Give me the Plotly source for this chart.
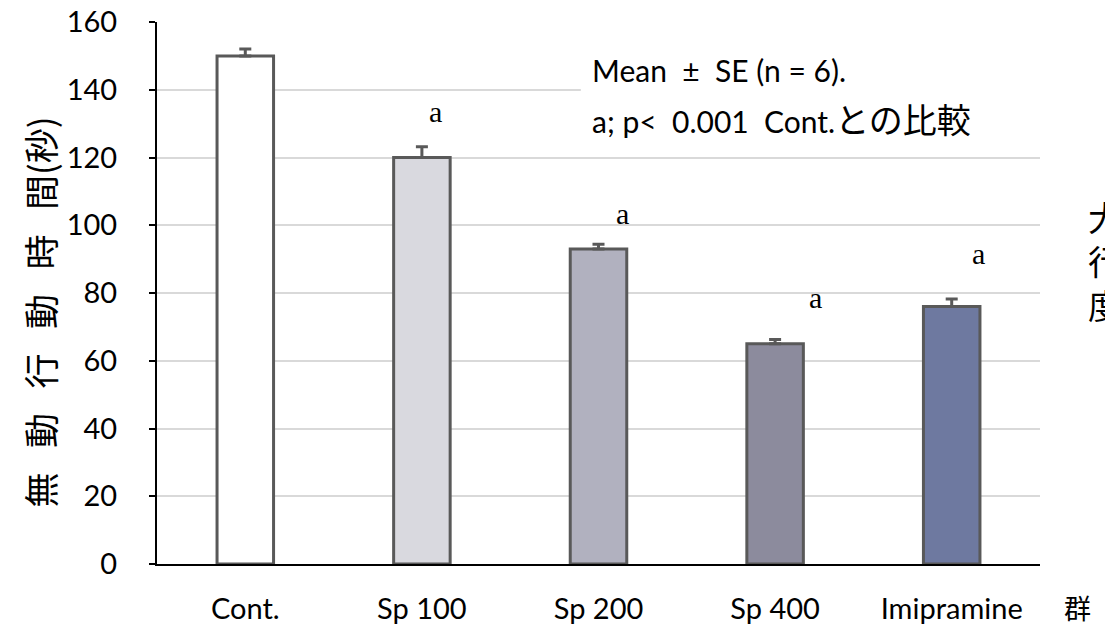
import plotly.graph_objects as go

categories = ["Cont.", "Sp 100", "Sp 200", "Sp 400", "Imipramine"]
means = [150, 120, 93, 65, 76]
se = [2, 3.2, 1.4, 1.3, 2.2]
sig_labels = ["", "a", "a", "a", "a"]
bar_colors = ["#ffffff", "#d9d9df", "#b1b1bf", "#8c8b9d", "#6e79a0"]
y_ticks = [0, 20, 40, 60, 80, 100, 120, 140, 160]

LATIN = "Lato, 'Noto Sans CJK JP', sans-serif"
CJK = "'Noto Sans CJK JP', sans-serif"

fig = go.Figure()
fig.add_trace(go.Bar(
    x=categories, y=means,
    marker=dict(color=bar_colors, line=dict(color="#595959", width=3)),
    error_y=dict(type="data", array=se, arrayminus=[0]*len(se), symmetric=False,
                 color="#595959", thickness=3, width=6),
    width=0.32,
    showlegend=False,
))

# significance letters
xshifts = [0, 14, 24, 40, 27]
yshifts = [0, 35, 31, 42, 46]
for i, (c, m, s, lab) in enumerate(zip(categories, means, se, sig_labels)):
    if lab:
        fig.add_annotation(x=c, y=m + s, text=lab, showarrow=False,
                           xshift=xshifts[i], yshift=yshifts[i], yanchor="middle",
                           font=dict(family="'Liberation Serif', serif", size=30, color="#000"))

# white box behind the note (hides the grid line there)
fig.add_shape(type="rect", xref="paper", yref="paper", x0=0.48, x1=1.0, y0=0.778, y1=0.97,
              fillcolor="white", line=dict(width=0), layer="above")

fig.add_annotation(xref="paper", yref="paper", x=0.49, y=0.912, xanchor="left", yanchor="middle",
                   text="Mean\u00a0\u00a0±\u00a0\u00a0SE (n = 6).", showarrow=False,
                   font=dict(family=LATIN, size=30, color="#000"))
fig.add_annotation(xref="paper", yref="paper", x=0.49, y=0.82, xanchor="left", yanchor="middle",
                   text="a; p<\u00a0 0.001\u00a0 Cont.<span style='font-size:34px'>との比較</span>",
                   showarrow=False,
                   font=dict(family=LATIN, size=30, color="#000"))

# y-axis title
fig.add_annotation(xref="paper", yref="paper", x=-0.133, y=0.465, xanchor="center", yanchor="middle",
                   text="無\u2002\u2009動\u2002\u2009行\u2002\u2009動\u2002\u2009時\u2002\u2009間(秒)",
                   textangle=-90, showarrow=False,
                   font=dict(family=CJK, size=35, color="#000"))

# x-axis title to the right
fig.add_annotation(xref="paper", yref="paper", x=1.025, y=-0.08, xanchor="left", yanchor="middle",
                   text="群", showarrow=False,
                   font=dict(family=CJK, size=27, color="#000"))

# cut-off text at the right edge
fig.add_annotation(xref="paper", yref="paper", x=1.052, y=0.56, xanchor="left", yanchor="middle",
                   text="大<br>行<br>度", showarrow=False, align="left",
                   font=dict(family=CJK, size=34, color="#000"))

fig.update_layout(
    width=1105, height=631,
    margin=dict(l=157, r=65, t=22, b=67, autoexpand=False),
    paper_bgcolor="white", plot_bgcolor="white",
    bargap=0.68,
    xaxis=dict(
        automargin=False,
        showline=True, linecolor="#000", linewidth=2,
        ticks="", showgrid=False,
        tickfont=dict(family=LATIN, size=29, color="#000"),
        ticklabelstandoff=18,
    ),
    yaxis=dict(
        automargin=False,
        range=[0, 160], tickvals=y_ticks,
        showline=True, linecolor="#000", linewidth=2,
        ticks="outside", ticklen=6, tickcolor="#000", tickwidth=1.5,
        showgrid=True, gridcolor="#d9d9d9", gridwidth=1.5,
        zeroline=False,
        tickfont=dict(family=LATIN, size=29, color="#000"),
        ticklabelstandoff=26,
    ),
)

fig.write_html("out.html")
